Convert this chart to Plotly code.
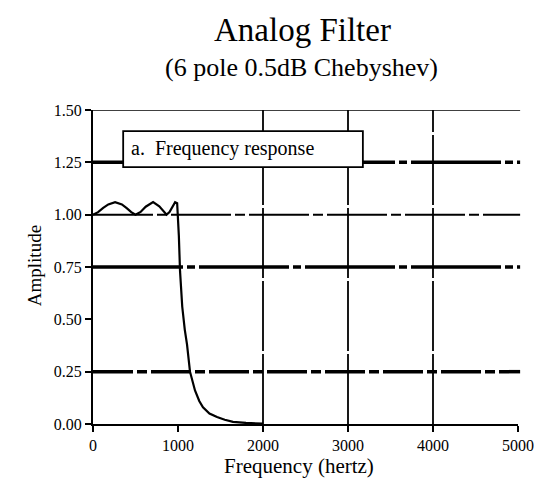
import plotly.graph_objects as go

# Frequency response of a 6 pole, 0.5 dB Chebyshev low-pass (cutoff 1000 Hz)
freq_hz = [0, 60, 120, 180, 260, 340, 400, 450, 500, 560, 620, 707, 780, 830,
           866, 900, 940, 966, 990, 1000, 1010, 1024, 1050, 1080, 1106, 1141,
           1200, 1250, 1294, 1370, 1459, 1550, 1647, 1800, 2000]
amplitude = [1.000, 1.012, 1.032, 1.049, 1.060, 1.049, 1.030, 1.012, 1.000,
             1.013, 1.038, 1.060, 1.040, 1.015, 1.000, 1.012, 1.045, 1.060,
             1.055, 1.000, 0.90, 0.73, 0.56, 0.45, 0.38, 0.25, 0.16, 0.11,
             0.08, 0.05, 0.033, 0.02, 0.01, 0.005, 0.002]

x_ticks = [0, 1000, 2000, 3000, 4000, 5000]
y_ticks = [0.00, 0.25, 0.50, 0.75, 1.00, 1.25, 1.50]
y_tick_text = ["0.00", "0.25", "0.50", "0.75", "1.00", "1.25", "1.50"]

# grid lines: (value, width, dash)
h_grid = [(1.25, 3.5, "90px,4px,8px,4px"), (1.00, 2, "60px,4px,10px,4px"),
          (0.75, 3.5, "90px,4px,8px,4px"), (0.25, 3.5, "40px,4px,10px,4px"),
          (1.50, 1.5, "solid")]
v_grid = [2000, 3000, 4000]

SERIF = "Liberation Serif, Times New Roman, serif"

fig = go.Figure()
fig.add_trace(go.Scatter(x=freq_hz, y=amplitude, mode="lines",
                         line=dict(color="black", width=2.2), showlegend=False,
                         hoverinfo="skip"))

shapes = []
for val, w, dash in h_grid:
    shapes.append(dict(type="line", xref="paper", yref="y", x0=0, x1=1.005,
                       y0=val, y1=val, layer="below",
                       line=dict(color="black", width=w, dash=dash)))
for val in v_grid:
    shapes.append(dict(type="line", xref="x", yref="paper", x0=val, x1=val,
                       y0=0, y1=1, layer="below",
                       line=dict(color="black", width=1.8, dash="70px,3px")))
# label box, drawn over the grid but under the text
shapes.append(dict(type="rect", xref="paper", yref="paper",
                   x0=0.071, x1=0.635, y0=0.818, y1=0.933,
                   fillcolor="white", line=dict(color="black", width=1.8),
                   layer="below"))
fig.update_layout(shapes=shapes)

annotations = [
    dict(text="Analog Filter", x=0.492, y=1.255, xref="paper", yref="paper",
         xanchor="center", yanchor="middle", showarrow=False,
         font=dict(family=SERIF, size=33, color="black")),
    dict(text="(6 pole 0.5dB Chebyshev)", x=0.49, y=1.134, xref="paper",
         yref="paper", xanchor="center", yanchor="middle", showarrow=False,
         font=dict(family=SERIF, size=26, color="black")),
    dict(text="a.  Frequency response", x=0.085, y=0.876, xref="paper",
         yref="paper", xanchor="left", yanchor="middle", showarrow=False,
         font=dict(family=SERIF, size=20, color="black")),
    dict(text="Amplitude", x=-0.137, y=0.505, xref="paper", yref="paper",
         xanchor="center", yanchor="middle", textangle=-90, showarrow=False,
         font=dict(family=SERIF, size=19, color="black")),
    dict(text="Frequency (hertz)", x=0.485, y=-0.134, xref="paper",
         yref="paper", xanchor="center", yanchor="middle", showarrow=False,
         font=dict(family=SERIF, size=21, color="black")),
]
fig.update_layout(annotations=annotations)

fig.update_xaxes(range=[0, 5000], tickvals=x_ticks,
                 ticktext=[str(v) for v in x_ticks], showgrid=False,
                 zeroline=False, showline=True, linecolor="black",
                 linewidth=2, ticks="outside", ticklen=6, tickwidth=2,
                 tickcolor="black",
                 tickfont=dict(family=SERIF, size=16, color="black"))
fig.update_yaxes(range=[0, 1.5], tickvals=y_ticks, ticktext=y_tick_text,
                 showgrid=False, zeroline=False, showline=True,
                 linecolor="black", linewidth=2, ticks="outside", ticklen=6,
                 tickwidth=2, tickcolor="black",
                 tickfont=dict(family=SERIF, size=16, color="black"))

fig.update_layout(width=534, height=483,
                  margin=dict(l=93, r=16, t=110, b=59, autoexpand=False),
                  plot_bgcolor="white", paper_bgcolor="white")

fig.write_html("out.html")
